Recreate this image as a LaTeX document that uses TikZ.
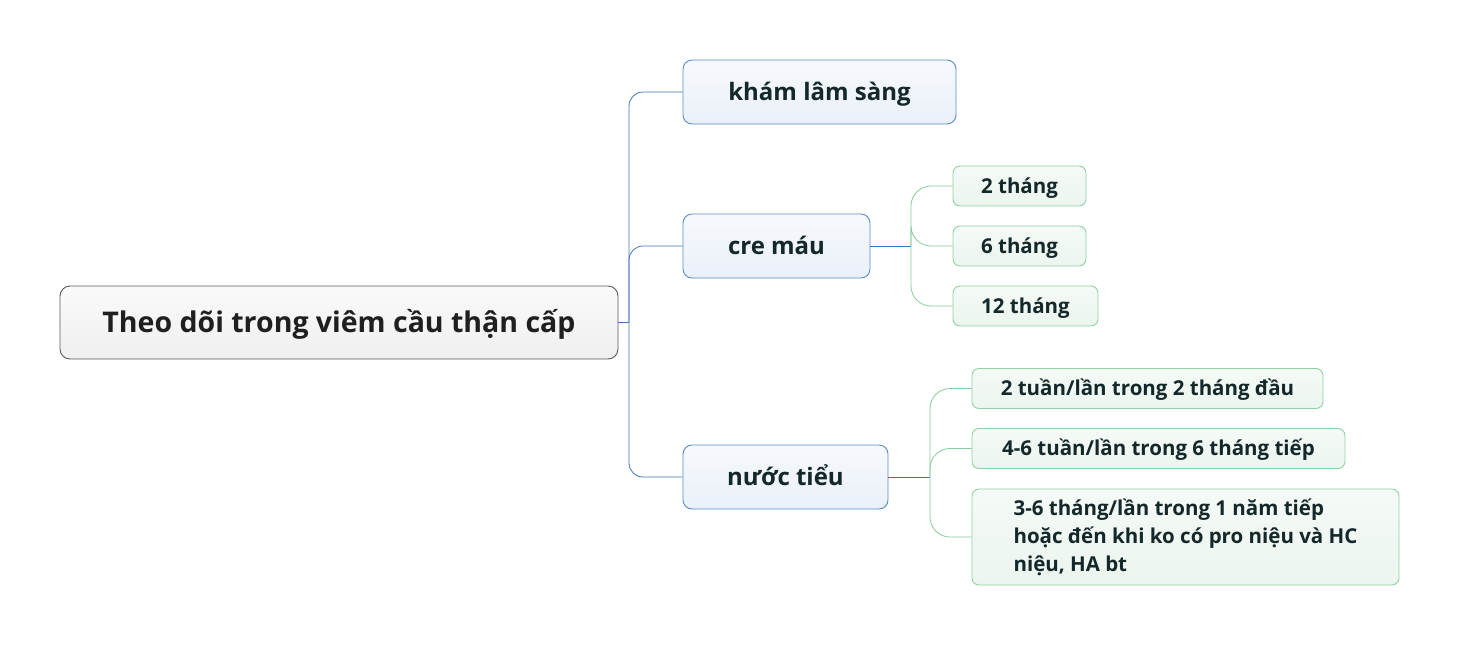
\documentclass[tikz,border=0pt]{standalone}
\usepackage{fontspec}
\setmainfont{Open Sans}
\usetikzlibrary{positioning}
\definecolor{rootfill}{HTML}{EFEFEF}
\definecolor{rootdraw}{HTML}{5A5A5A}
\definecolor{bfill}{HTML}{EAF0F9}
\definecolor{bdraw}{HTML}{5B8CC8}
\definecolor{bline}{HTML}{3F74B5}
\definecolor{gfill}{HTML}{EBF5EE}
\definecolor{gdraw}{HTML}{8FD1A6}
\definecolor{gline}{HTML}{86CC9C}
\definecolor{txt}{HTML}{14282A}
\tikzset{
  oneline/.style={text height=#1, text depth=0pt},
  rootbox/.style={draw=rootdraw, line width=0.9pt, rounded corners=10pt, top color=white!70!rootfill, bottom color=rootfill,
    text=black!88, font=\bfseries\fontsize{28.5}{32}\selectfont, minimum width=558pt, minimum height=73pt, oneline=20pt},
  topic/.style={draw=bdraw, line width=0.9pt, rounded corners=9pt, top color=bfill!40!white, bottom color=bfill,
    text=txt, font=\bfseries\fontsize{24}{28}\selectfont, minimum height=64pt, oneline=17pt},
  leafbox/.style={draw=gdraw, line width=0.9pt, rounded corners=7pt, top color=gfill!50!white, bottom color=gfill,
    text=txt, font=\bfseries\fontsize{20.5}{28}\selectfont, minimum height=40pt},
  leaf/.style={leafbox, oneline=14.5pt},
  blink/.style={bline, line width=0.8pt, rounded corners=14pt},
  glink/.style={gline, line width=0.8pt, rounded corners=20pt}
}
\begin{document}
\begin{tikzpicture}[x=1pt, y=-1pt]
  \useasboundingbox (0,0) rectangle (1460,646);
  % main topic and first level
  \node[rootbox] (root) at (339,322.5) {Theo dõi trong viêm cầu thận cấp};
  \node[topic, minimum width=273pt] (kham) at (819.5,92) {khám lâm sàng};
  \node[topic, minimum width=187pt] (cre) at (776.5,246) {cre máu};
  \node[topic, minimum width=205pt] (nuoc) at (785.5,477) {nước tiểu};
  \coordinate (rj) at (629,322.5);
  \draw[blink] (root.east) -- (rj);
  \foreach \c in {kham,cre,nuoc}{\draw[blink] (rj) |- (\c.west);}
  % creatinine follow-up
  \node[leaf, minimum width=133pt] (t2) at (1019.5,186) {2 tháng};
  \node[leaf, minimum width=133pt] (t6) at (1019.5,246) {6 tháng};
  \node[leaf, minimum width=145pt] (t12) at (1025.5,306) {12 tháng};
  \coordinate (cj) at (911,246);
  \draw[bline, line width=0.8pt] (cre.east) -- (cj);
  \foreach \c in {t2,t6,t12}{\draw[glink] (cj) |- (\c.west);}
  % urine follow-up
  \node[leaf, minimum width=351pt] (u1) at (1147.5,388.5) {2 tuần/lần trong 2 tháng đầu};
  \node[leaf, minimum width=373pt] (u2) at (1158.5,448.5) {4-6 tuần/lần trong 6 tháng tiếp};
  \node[leafbox, minimum width=427pt, minimum height=96pt, align=left] (u3) at (1185.5,537)
    {3-6 tháng/lần trong 1 năm tiếp\\hoặc đến khi ko có pro niệu và HC\\niệu, HA bt};
  \coordinate (nj) at (930,477);
  \draw[bline, line width=0.8pt] (nuoc.east) -- (nj);
  \foreach \c in {u1,u2,u3}{\draw[glink] (nj) |- (\c.west);}
\end{tikzpicture}
\end{document}
